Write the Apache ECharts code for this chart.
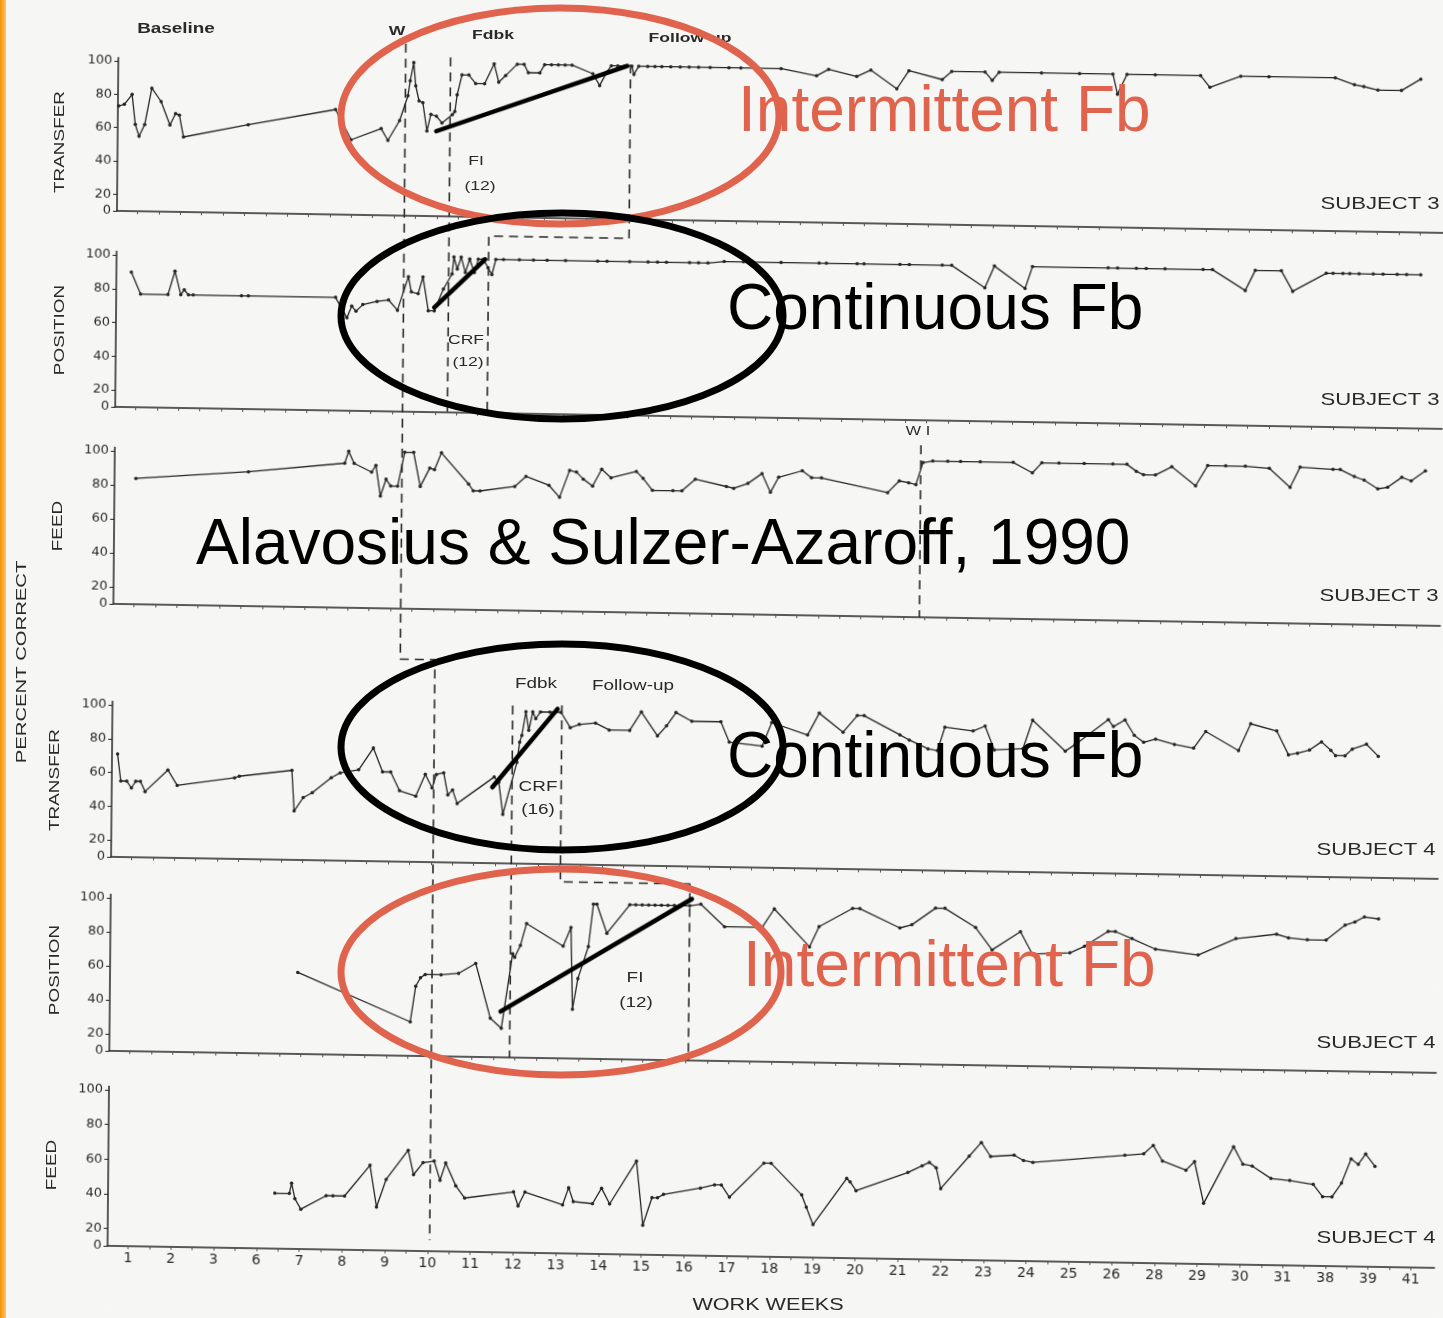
<!DOCTYPE html>
<html><head><meta charset="utf-8">
<script src="https://cdn.jsdelivr.net/npm/echarts@6/dist/echarts.min.js"></script>
<style>
html,body{margin:0;padding:0;background:#f6f6f4;}
#wrap{position:relative;width:1443px;height:1318px;overflow:hidden;background:#f6f6f4;}
#chart{position:absolute;left:0;top:0;width:1443px;height:1318px;transform:matrix(1,0.0166,-0.0091,1,0,0);transform-origin:721.5px 659px;}
#notes{position:absolute;left:0;top:0;width:1443px;height:1318px;}
</style></head><body>
<div id="wrap"><div id="chart"></div><div id="notes"></div></div>
<script>
// x positions are indices into weekLabels (the printed work-week labels)
const weekLabels = ['1','2','3','6','7','8','9','10','11','12','13','14','15','16','17','18','19','20','21','22','23','24','25','26','28','29','30','31','38','39','41'];

const s3Transfer = [
[-0.46,73],[-0.33,74],[-0.15,80],[-0.07,62],[0.02,55],[0.15,62],[0.31,84],[0.53,76],[0.74,62],[0.87,69],[0.96,68],[1.06,55],[2.57,63],[4.61,73],[4.98,55],[5.68,62],[5.84,55],[6.11,67],
[6.30,82],[6.35,91],[6.43,102],[6.48,88],[6.56,79],[6.65,78],[6.75,61],[6.84,71],[6.97,70],[7.10,66],
[7.34,71],[7.40,73],[7.45,83],[7.56,95],[7.72,95],[7.88,90],[8.09,90],[8.31,102],[8.42,91],[8.58,95],[8.85,102],[9.01,102],[9.11,97],[9.38,97],[9.49,102],[9.65,102],[9.81,102],[9.97,102],[10.13,102],[10.62,97],[10.78,90],[10.94,98],[11.05,102],[11.2,102],[11.36,102],[11.53,102],[11.58,97],[11.69,102],
[11.90,102],[12.07,102],[12.23,102],[12.44,102],[12.66,102],[12.87,102],[13.09,102],[13.36,102],[13.80,102],[14.08,102],[15.02,102],[15.85,98],[16.13,102],[16.79,98],[17.12,102],[17.73,91],[18.01,102],[18.79,97],[19.01,102],[19.79,102],[19.96,97],[20.12,102],[21.11,102],[22.00,102],[22.78,102],[22.89,90],[23.11,102],[23.77,102],[24.83,102],[25.05,95],[25.77,102],[26.43,102],[27.98,102],[28.43,98],[28.65,97],[28.98,95],[29.53,95],[29.98,102]
];
const s3Position = [
[-0.13,90],[0.09,77],[0.73,77],[0.89,91],[1.03,77],[1.11,80],[1.21,77],[1.32,77],[2.45,77],[2.61,77],[4.65,77],[4.92,65],[5.03,72],[5.13,69],[5.29,73],[5.62,75],[5.89,76],[6.10,70],
[6.35,90],[6.42,81],[6.58,80],[6.69,90],[6.82,70],[6.96,70],[7.17,83],
[7.37,92],[7.41,102],[7.49,95],[7.58,102],[7.68,93],[7.78,101],[7.89,93],[7.98,101],[8.10,101],[8.21,96],[8.30,92],[8.39,101],
[8.57,101],[8.94,101],[9.27,101],[9.59,101],[10.02,101],[10.77,101],[10.99,101],[11.52,101],[11.95,101],[12.17,101],[12.38,101],[12.92,101],[13.13,101],[13.35,101],[13.73,102],[14.18,102],[14.40,102],[15.06,102],[15.95,102],[16.12,102],[16.84,102],[17.00,102],[17.84,102],[18.06,102],[18.83,102],[19.05,102],[19.83,89],[20.05,102],[20.77,89],[20.94,102],[22.71,102],[22.93,102],[23.37,102],[23.60,102],[24.04,102],[24.93,102],[25.15,102],[25.92,90],[26.15,102],[26.76,102],[27.03,90],[27.81,101],[27.97,101],[28.20,101],[28.36,101],[28.58,101],[28.91,101],[29.14,101],[29.47,101],[29.69,101],[30.02,101]
];
const s3Feed = [
[0.02,84],[2.65,89],[4.90,95],[4.99,102],[5.12,95],[5.53,90],[5.63,94],[5.74,76],[5.87,86],[5.98,82],[6.14,82],
[6.30,102],[6.51,102],[6.67,82],[6.89,93],[7.00,92],[7.16,102],[7.80,84],[7.91,80],[8.07,80],[8.88,83],[9.14,89],[9.68,84],[9.93,77],[10.16,93],[10.32,92],[10.48,88],[10.70,84],[10.91,94],[11.13,89],[11.72,93],[11.88,89],[12.10,82],[12.58,82],[12.79,82],[13.10,89],[13.83,85],[14.00,84],[14.33,87],[14.66,93],[14.86,82],[15.05,91],[15.60,95],[15.82,91],[16.05,91],[17.60,83],[17.87,90],[18.09,89],[18.26,88],
[18.42,101],[18.65,102],[19.00,102],[19.30,102],[19.76,102],[20.53,102],[20.98,96],[21.20,102],[21.60,102],[22.19,102],[22.86,102],[23.19,102],[23.41,98],[23.58,96],[23.86,96],[24.24,101],[24.80,90],[25.08,102],[25.50,102],[25.96,102],[26.52,101],[27.01,90],[27.24,102],[28.01,101],[28.18,101],[28.51,97],[28.74,95],[29.06,90],[29.29,91],[29.62,97],[29.84,95],[30.17,101]
];
const s4Transfer = [
[-0.35,71],[-0.27,55],[-0.13,55],[-0.02,51],[0.08,55],[0.19,55],[0.30,49],[0.83,62],[1.05,53],[2.39,58],[2.50,59],[3.73,63],[3.79,39],[4.00,47],[4.21,50],[4.65,59],[4.86,62],[5.29,64],[5.63,77],[5.85,63],[6.04,63],[6.25,52],[6.63,49],[6.85,62],[7.01,54],[7.11,62],[7.28,63],[7.38,50],[7.49,53],[7.60,45],[8.46,61],[8.57,58],[8.67,39],
[8.99,70],[9.05,82],[9.10,86],[9.19,100],[9.26,89],[9.35,100],[9.42,96],[9.53,100],[9.75,100],[10.01,100],
[10.23,91],[10.44,93],[10.82,94],[11.14,90],[11.62,90],[11.89,101],[12.27,87],[12.48,93],[12.70,101],[13.07,96],[13.75,96],[13.95,84],[14.72,82],[14.94,96],[15.78,89],[16.05,102],[16.61,91],[16.94,101],[17.10,101],[17.94,90],[18.16,87],[18.60,82],[18.82,81],[18.99,95],[19.65,93],[19.93,96],[20.15,82],[20.82,83],[21.04,100],[21.81,82],[22.04,86],[22.81,101],[22.93,97],[23.20,101],[23.42,92],[23.64,88],[23.92,90],[24.36,87],[24.81,85],[25.09,95],[25.86,84],[26.14,100],[26.75,96],[27.03,82],[27.24,83],[27.52,85],[27.80,90],[28.02,85],[28.13,82],[28.35,82],[28.52,86],[28.85,89],[29.13,82]
];
const s4Position = [
[3.91,58],[6.55,30],[6.67,51],[6.78,56],[6.89,58],[7.26,58],[7.67,59],[8.07,65],[8.42,33],[8.68,27],
[8.93,71],[8.98,69],[9.11,76],[9.25,89],[10.11,76],[10.29,87],[10.34,39],[10.46,57],[10.70,76],[10.81,101],[10.89,101],[11.13,84],[11.66,101],[11.80,101],[11.95,101],[12.10,101],[12.25,101],[12.40,101],[12.55,101],[12.70,101],[12.85,101],[13.06,101],
[13.32,102],[13.88,89],[14.76,89],[15.04,100],[15.87,78],[16.09,90],[16.87,101],[17.04,101],[17.98,90],[18.26,92],[18.81,102],[19.03,102],[19.75,91],[20.14,78],[20.80,89],[21.08,76],[21.96,77],[22.30,81],[22.85,90],[23.02,90],[23.41,86],[23.96,80],[24.96,77],[25.84,87],[26.79,90],[27.07,88],[27.51,87],[27.95,87],[28.39,96],[28.62,98],[28.84,101],[29.17,100]
];
const s4Feed = [
[3.42,42],[3.76,42],[3.81,48],[3.89,39],[4.03,33],[4.62,41],[4.78,41],[5.05,41],[5.64,59],[5.80,35],[6.02,51],[6.53,68],[6.66,54],[6.88,61],
[7.14,62],[7.28,51],[7.41,61],[7.65,48],[7.86,41],[9.00,45],[9.11,37],[9.27,45],[10.15,38],[10.29,48],[10.40,40],[10.85,39],[11.06,48],[11.25,39],[11.87,64],[12.03,27],[12.24,43],[12.37,43],[12.51,45],[13.37,49],[13.70,51],[13.86,51],[14.05,44],[14.85,64],[15.02,64],[15.74,46],[15.85,39],[16.01,29],[16.79,56],[16.87,54],[17.01,49],[18.22,60],[18.55,64],[18.72,66],[18.88,63],[18.99,51],[19.65,70],[19.93,78],[20.15,70],[20.70,71],[20.92,68],[21.14,67],[23.29,72],[23.73,73],[23.95,78],[24.17,69],[24.72,64],[24.92,69],[25.14,45],[25.83,78],[26.05,68],[26.27,67],[26.71,60],[27.15,59],[27.70,57],[27.92,50],[28.14,50],[28.36,58],[28.58,72],[28.75,69],[28.92,75],[29.14,68]
];

// hand-drawn trend strokes (annotation), in panel units
const trendS3Transfer = [[6.97,61],[11.42,102]];
const trendS3Position = [[6.96,72],[8.14,101]];
const trendS4Transfer = [[8.42,55],[9.93,102]];
const trendS4Position = [[8.66,37],[13.11,105]];

// phase-change lines (week index)
const s3W = 6.24, s3Fdbk = 7.29, s3FollowTransfer = 11.50, s3FollowPosition = 8.22, s3WI = 18.37;
const s4W = 7.05, s4Fdbk = 8.88, s4FollowTransfer = 10.03, s4FollowPosition = 13.06;

// layout (unsheared page px): level of 100 and of the baseline for each panel
const panelY100 = [71, 265, 461, 715, 908, 1100];
const panelY0 = [221, 417, 614, 867, 1061, 1256];
const Y_MIN = 10, Y_MAX = 102, X_MIN = -0.48, X_MAX = 30.55;
const GRID_LEFT = 113, GRID_RIGHT = 3;

const panelData = [s3Transfer, s3Position, s3Feed, s4Transfer, s4Position, s4Feed];
const ink = '#262626';

const grids = [], xAxes = [], yAxes = [], series = [];
const xTicks = []; for (let v = 0; v <= 30.01; v += 0.5) xTicks.push(+v.toFixed(2));
const xLabelVals = weekLabels.map((_, i) => i);
const yVals = [10, 20, 40, 60, 80, 100];

panelY100.forEach((y100, k) => {
  const y0 = panelY0[k];
  const h = (y0 - y100) * (Y_MAX - Y_MIN) / (100 - Y_MIN);
  grids.push({ left: GRID_LEFT, right: GRID_RIGHT, top: y0 - h, height: h });
  xAxes.push({
    gridIndex: k, type: 'value', min: X_MIN, max: X_MAX,
    axisLine: { show: true, onZero: false, lineStyle: { color: ink, width: 1.5 } },
    axisTick: { show: true, customValues: xTicks, length: 3, lineStyle: { color: '#555', width: 1 } },
    axisLabel: { show: k === 5, customValues: xLabelVals, formatter: v => weekLabels[Math.round(v)] || '',
      fontSize: 14, color: '#2a2a2a', margin: 5, fontFamily: 'DejaVu Sans' },
    splitLine: { show: false }
  });
  yAxes.push({
    gridIndex: k, type: 'value', min: Y_MIN, max: Y_MAX,
    axisLine: { show: true, onZero: false, lineStyle: { color: ink, width: 1.5 } },
    axisTick: { show: true, customValues: yVals, length: 4, lineStyle: { color: ink } },
    axisLabel: { customValues: yVals, formatter: v => (v === 10 ? '0' : String(v)), fontSize: 13, color: '#2a2a2a', margin: 6, fontFamily: 'DejaVu Sans' },
    splitLine: { show: false }
  });
  series.push({
    type: 'line', xAxisIndex: k, yAxisIndex: k, data: panelData[k], clip: false,
    symbol: 'circle', symbolSize: 3.5, showSymbol: true,
    lineStyle: { color: ink, width: 1.3 }, itemStyle: { color: ink }, silent: true
  });
});

// trend strokes
[[0, trendS3Transfer], [1, trendS3Position], [3, trendS4Transfer], [4, trendS4Position]].forEach(([k, d]) => {
  series.push({ type: 'line', xAxisIndex: k, yAxisIndex: k, data: d, clip: false, symbol: 'none',
    lineStyle: { color: '#000', width: 4.5, cap: 'round' }, z: 5, silent: true });
});

// frame grid for dashed phase lines spanning several panels
const F = 6;
grids.push({ left: GRID_LEFT, right: GRID_RIGHT, top: 0, height: 1318 });
xAxes.push({ gridIndex: F, type: 'value', min: X_MIN, max: X_MAX, show: false });
yAxes.push({ gridIndex: F, type: 'value', min: 0, max: 1318, inverse: true, show: false });
const gap = k => (panelY0[k] + panelY100[k + 1]) / 2 - 3;
const phasePaths = [
  [[s3W, panelY100[0] - 22], [s3W, gap(2) + 3], [s4W, gap(2) + 3], [s4W, panelY0[5] - 11]],
  [[s3Fdbk, panelY100[0] - 9], [s3Fdbk, panelY0[1]]],
  [[s3FollowTransfer, panelY100[0] - 5], [s3FollowTransfer, gap(0)], [s3FollowPosition, gap(0)], [s3FollowPosition, panelY0[1]]],
  [[s3WI, panelY100[2] - 19], [s3WI, panelY0[2]]],
  [[s4Fdbk, panelY100[3] - 6], [s4Fdbk, panelY0[4]]],
  [[s4FollowTransfer, panelY100[3] - 7], [s4FollowTransfer, gap(3)], [s4FollowPosition, gap(3)], [s4FollowPosition, panelY0[4]]]
];
phasePaths.forEach(p => series.push({ type: 'line', xAxisIndex: F, yAxisIndex: F, data: p, clip: false, symbol: 'none',
  lineStyle: { color: '#2a2a2a', width: 1.6, type: [9, 6] }, silent: true }));

const chart = echarts.init(document.getElementById('chart'), null, { renderer: 'canvas' });
chart.setOption({ animation: false, backgroundColor: '#f6f6f4', grid: grids, xAxis: xAxes, yAxis: yAxes, series });

// ---------- annotation layer ----------
const FONT = 'Liberation Sans, Arial, sans-serif';
function scanText(text, x, y, size, rot, extra, weight) {
  return Object.assign({ type: 'text', x, y, rotation: rot || 0, scaleX: 1.35,
    style: { text, fill: '#2a2a2a', fontSize: size, fontWeight: weight || 'normal', fontFamily: FONT, textAlign: 'center', textVerticalAlign: 'middle', align: 'center', verticalAlign: 'middle' } }, extra || {});
}
function bigText(text, x, y, color) {
  return { type: 'text', x, y, z: 20,
    style: { text, fill: color, fontSize: 64, fontFamily: FONT, textAlign: 'left', textVerticalAlign: 'middle', align: 'left', verticalAlign: 'middle' } };
}
function ring(cx, cy, rx, ry, color) {
  return { type: 'ellipse', z: 15, shape: { cx, cy, rx, ry }, style: { fill: 'none', stroke: color, lineWidth: 7 } };
}
const RED = '#e0634d';
const R90 = Math.PI / 2;
const notes = [
  { type: 'rect', shape: { x: 0, y: 0, width: 6, height: 1318 },
    style: { fill: new echarts.graphic.LinearGradient(0, 0, 1, 0, [{ offset: 0, color: '#f39200' }, { offset: 1, color: '#fbc46a' }]) } },
  scanText('Baseline', 176, 29, 14, 0, null, 'bold'),
  scanText('W', 397, 31, 13, 0, null, 'bold'),
  scanText('Fdbk', 493, 35, 13, 0, null, 'bold'),
  scanText('Follow-up', 690, 38, 13, 0, null, 'bold'),
  scanText('FI', 476, 161, 13),
  scanText('(12)', 480, 186, 13),
  scanText('CRF', 466, 340, 13),
  scanText('(12)', 468, 362, 13),
  scanText('W I', 918, 432, 12),
  scanText('Fdbk', 536, 684, 14),
  scanText('Follow-up', 633, 686, 14),
  scanText('CRF', 538, 787, 14),
  scanText('(16)', 538, 810, 14),
  scanText('FI', 635, 978, 14),
  scanText('(12)', 636, 1003, 14),
  scanText('SUBJECT 3', 1380, 204, 17, 0, { scaleX: 1.3 }),
  scanText('SUBJECT 3', 1380, 400, 17, 0, { scaleX: 1.3 }),
  scanText('SUBJECT 3', 1379, 596, 17, 0, { scaleX: 1.3 }),
  scanText('SUBJECT 4', 1376, 850, 17, 0, { scaleX: 1.3 }),
  scanText('SUBJECT 4', 1376, 1043, 17, 0, { scaleX: 1.3 }),
  scanText('SUBJECT 4', 1376, 1238, 17, 0, { scaleX: 1.3 }),
  scanText('WORK WEEKS', 768, 1306, 16),
  scanText('TRANSFER', 60, 142, 14, R90),
  scanText('POSITION', 60, 330, 14, R90),
  scanText('FEED', 58, 526, 14, R90),
  scanText('PERCENT CORRECT', 22, 662, 15, R90),
  scanText('TRANSFER', 55, 780, 14, R90),
  scanText('POSITION', 55, 970, 14, R90),
  scanText('FEED', 52, 1165, 14, R90),
  ring(560, 116, 219, 108, RED),
  ring(562, 316, 221, 103, '#000'),
  ring(562, 747, 221, 103, '#000'),
  ring(561, 972, 220, 103, RED),
  bigText('Intermittent Fb', 738, 113, RED),
  bigText('Continuous Fb', 727, 311, '#000'),
  bigText('Alavosius & Sulzer-Azaroff, 1990', 196, 546, '#000'),
  bigText('Continuous Fb', 727, 759, '#000'),
  bigText('Intermittent Fb', 743, 968, RED)
];
const overlay = echarts.init(document.getElementById('notes'), null, { renderer: 'canvas' });
overlay.setOption({ animation: false, backgroundColor: 'transparent', graphic: { elements: notes } });
</script>
</body></html>
